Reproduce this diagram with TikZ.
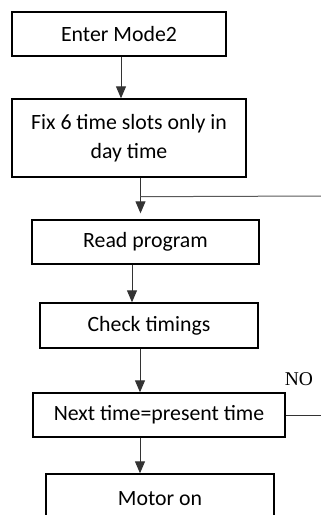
\documentclass[tikz,border=0pt]{standalone}
\usepackage{fontspec}
\setmainfont{Carlito}
\newfontfamily\nofont{Liberation Serif}
\usetikzlibrary{arrows.meta}
\begin{document}
\begin{tikzpicture}[x=1pt,y=-1pt,
  box/.style={draw=black,line width=1.4pt,rectangle,inner sep=0pt,align=center,
    font={\fontsize{21.8}{29}\selectfont}},
  arr/.style={draw=black!80,line width=1pt,-{Triangle[length=12pt,width=10pt]}},
  ln/.style={draw=black!65,line width=1pt}]
\useasboundingbox (0,0) rectangle (321,515);
\node[box,minimum width=214pt,minimum height=44pt] (b1) at (119,34) {Enter Mode2};
\node[box,minimum width=234pt,minimum height=78pt] (b2) at (129,138) {Fix 6 time slots only in\\day time};
\node[box,minimum width=227pt,minimum height=44pt] (b3) at (145.5,242) {Read program};
\node[box,minimum width=218pt,minimum height=45pt] (b4) at (149,325.5) {Check timings};
\node[box,minimum width=252pt,minimum height=44pt] (b5) at (159,415) {Next time=present time};
\node[box,minimum width=228pt,minimum height=50pt] (b6) at (160,499) {Motor on};
\node[font={\nofont\fontsize{19.5}{20}\selectfont}] (no) at (299,379) {NO};
\draw[arr] ([xshift=2pt]b1.south) -- ([xshift=2pt]b1.south |- b2.north);
\draw[arr,shorten >=6pt] ([xshift=11.5pt]b2.south) -- ([xshift=11.5pt]b2.south |- b3.north);
\coordinate (j) at ([xshift=11.5pt,yshift=-19pt]b2.south);
\coordinate (e1) at (321,196);
\draw[ln] (j) -- (e1);
\draw[arr] ([xshift=-13.5pt]b3.south) -- ([xshift=-13.5pt]b3.south |- b4.north);
\draw[arr] ([xshift=-9pt]b4.south) -- ([xshift=-9pt]b4.south |- b5.north);
\coordinate (e2) at (321,415);
\draw[line width=1pt,draw=black!80] (b5.east) -- (e2);
\draw[arr] ([xshift=-19pt]b5.south) -- ([xshift=-19pt]b5.south |- b6.north);
\end{tikzpicture}
\end{document}
